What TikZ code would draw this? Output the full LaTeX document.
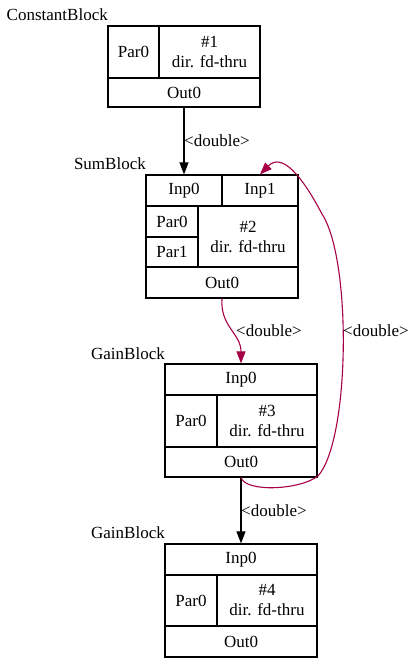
\documentclass[tikz,border=0pt]{standalone}
\usepackage{fontspec}
\setmainfont{Liberation Serif}
\usetikzlibrary{arrows.meta}
\definecolor{fbred}{RGB}{165,0,70}
\tikzset{>={Triangle[length=12pt,width=9pt]}}
\tikzset{cell/.style={draw, line width=1.2pt, inner sep=0pt, align=center, font=\fontsize{17}{20}\selectfont},
  lbl/.style={inner sep=0pt, font=\fontsize{17}{20}\selectfont}}

\begin{document}
\begin{tikzpicture}[x=1pt, y=-1pt]
    \useasboundingbox (0,0) rectangle (415,663);
    \node[cell, minimum width=51, minimum height=52] (c1par) at (133.5,52) {Par0};
    \node[cell, minimum width=101, minimum height=52] (c1id) at (209.5,52) {\#1\\dir. fd-thru};
    \node[cell, minimum width=152, minimum height=29] (c1out) at (184,92.5) {Out0};
    \node[lbl, anchor=base east] (c1lbl) at (108,21) {ConstantBlock};

    \node[cell, minimum width=76, minimum height=31] (c2in0) at (184,190.5) {Inp0};
    \node[cell, minimum width=76, minimum height=31] (c2in1) at (260,190.5) {Inp1};
    \node[cell, minimum width=52, minimum height=31] (c2par0) at (172,221.5) {Par0};
    \node[cell, minimum width=52, minimum height=30] (c2par1) at (172,252) {Par1};
    \node[cell, minimum width=100, minimum height=61] (c2id) at (248,236.5) {\#2\\dir. fd-thru};
    \node[cell, minimum width=152, minimum height=31] (c2out) at (222,282.5) {Out0};
    \node[lbl, anchor=base east] (c2lbl) at (146,169) {SumBlock};

    \node[cell, minimum width=152, minimum height=31] (c3in) at (241,379.5) {Inp0};
    \node[cell, minimum width=52, minimum height=52] (c3par) at (191,421) {Par0};
    \node[cell, minimum width=100, minimum height=52] (c3id) at (267,421) {\#3\\dir. fd-thru};
    \node[cell, minimum width=152, minimum height=30] (c3out) at (241,462) {Out0};
    \node[lbl, anchor=base east] (c3lbl) at (165,359) {GainBlock};

    \node[cell, minimum width=152, minimum height=31] (c4in) at (241,559.5) {Inp0};
    \node[cell, minimum width=52, minimum height=51] (c4par) at (191,600.5) {Par0};
    \node[cell, minimum width=100, minimum height=51] (c4id) at (267,600.5) {\#4\\dir. fd-thru};
    \node[cell, minimum width=152, minimum height=31] (c4out) at (241,641.5) {Out0};
    \node[lbl, anchor=base east] (c4lbl) at (165,538) {GainBlock};

    \draw[->, line width=1.1pt] (c1out.south) -- (c2in0.north);
    \node[lbl, anchor=west] (e1lbl) at (184,141) {<double>};
    \draw[->, line width=1.1pt, fbred] (c2out.south) .. controls +(-2,28) and +(0,-30) .. (c3in.north);
    \node[lbl, anchor=west] (e2lbl) at (236,331) {<double>};
    \draw[->, line width=1.1pt] (c3out.south) -- (c4in.north);
    \node[lbl, anchor=west] (e3lbl) at (241,511) {<double>};
    \draw[->, line width=1.1pt, fbred] (c3out.south) .. controls +(5,15) and (300,490) .. (318,476)
        .. controls (350,440) and (352,260) .. (322,214) .. controls (302,176) and (282,152) .. (c2in1.north);
    \node[lbl, anchor=west] (e4lbl) at (343,331) {<double>};
\end{tikzpicture}
\end{document}
